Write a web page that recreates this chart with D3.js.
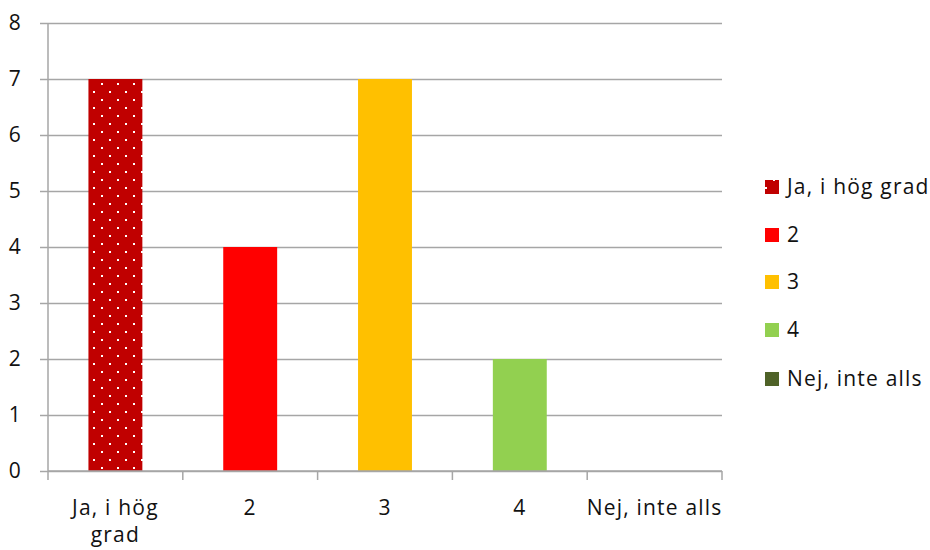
<!DOCTYPE html>
<html>
<head>
<meta charset="utf-8">
<script src="https://cdn.jsdelivr.net/npm/d3@7"></script>
<style>
  body { margin: 0; background: #fff; }
  svg { display: block; }
  text { font-family: "Open Sans", "DejaVu Sans", sans-serif; fill: #111; letter-spacing: 1.2px; }
</style>
</head>
<body>
<svg id="chart" width="930" height="550"></svg>
<script>
// Survey answers: how many respondents chose each option
const categories = ["Ja, i hög grad", "2", "3", "4", "Nej, inte alls"];
const counts = [7, 4, 7, 2, 0];
const colors = ["#C00000", "#FF0000", "#FFC000", "#92D050", "#4F6228"];
const yTicks = [0, 1, 2, 3, 4, 5, 6, 7, 8];

const svg = d3.select("#chart");
const plot = { left: 48, right: 722, top: 23, bottom: 471 };
const fontSize = 21;

// Dotted fill for the first category
const defs = svg.append("defs");
const pat = defs.append("pattern")
  .attr("id", "dots")
  .attr("patternUnits", "userSpaceOnUse")
  .attr("width", 16).attr("height", 16);
pat.append("rect").attr("width", 16).attr("height", 16).attr("fill", colors[0]);
pat.append("rect").attr("x", 5).attr("y", 3).attr("width", 2).attr("height", 2).attr("fill", "#fff");
pat.append("rect").attr("x", 13).attr("y", 11).attr("width", 2).attr("height", 2).attr("fill", "#fff");

const fills = colors.map((c, i) => i === 0 ? "url(#dots)" : c);

const x = d3.scaleBand().domain(categories).range([plot.left, plot.right]).padding(0);
const y = d3.scaleLinear().domain([0, 8]).range([plot.bottom, plot.top]);

const gridColor = "#A6A6A6";

// Horizontal gridlines with short ticks on the left
const yAxis = d3.axisLeft(y).tickValues(yTicks).tickSize(-(plot.right - plot.left)).tickPadding(26);
const gy = svg.append("g").attr("transform", `translate(${plot.left},0)`).call(yAxis);
gy.select(".domain").remove();
gy.selectAll(".tick line").attr("stroke", gridColor).attr("stroke-width", 1.5).attr("x1", -8);
gy.selectAll(".tick text")
  .attr("font-size", fontSize)
  .attr("font-family", "Open Sans, sans-serif")
  .attr("fill", "#111");

// Vertical axis line
svg.append("line")
  .attr("x1", plot.left).attr("x2", plot.left)
  .attr("y1", plot.top).attr("y2", plot.bottom)
  .attr("stroke", gridColor).attr("stroke-width", 1.5);

// Bars
const barW = x.bandwidth() * 0.4;
svg.append("g").selectAll("rect")
  .data(categories.map((c, i) => ({ c, v: counts[i], f: fills[i] })))
  .join("rect")
  .attr("x", d => x(d.c) + (x.bandwidth() - barW) / 2)
  .attr("y", d => y(d.v))
  .attr("width", barW)
  .attr("height", d => y(0) - y(d.v))
  .attr("fill", d => d.f);

// Category axis with tick marks between categories
const gx = svg.append("g").attr("transform", `translate(0,${plot.bottom})`);
gx.append("line")
  .attr("x1", plot.left).attr("x2", plot.right)
  .attr("stroke", gridColor).attr("stroke-width", 1.5);
const edges = categories.map(c => x(c)).concat([plot.right]);
gx.selectAll(".sep").data(edges).join("line")
  .attr("class", "sep")
  .attr("x1", d => d).attr("x2", d => d)
  .attr("y1", 0).attr("y2", 9)
  .attr("stroke", gridColor).attr("stroke-width", 1.5);

// Category labels, wrapped when too wide for the band
const labelLines = { "Ja, i hög grad": ["Ja, i hög", "grad"] };
categories.forEach(c => {
  const lines = labelLines[c] || [c];
  const cx = x(c) + x.bandwidth() / 2;
  const t = gx.append("text")
    .attr("text-anchor", "middle")
    .attr("font-size", fontSize)
    .attr("x", cx)
    .attr("y", 44);
  lines.forEach((ln, k) => {
    t.append("tspan")
      .attr("x", cx)
      .attr("dy", k === 0 ? 0 : 27)
      .text(ln);
  });
});

// Legend
const legendY = [187, 235, 282, 330, 379];
const lg = svg.append("g");
categories.forEach((c, i) => {
  lg.append("rect")
    .attr("x", 765).attr("y", legendY[i] - 7)
    .attr("width", 14).attr("height", 14)
    .attr("fill", fills[i]);
  lg.append("text")
    .attr("x", 787).attr("y", legendY[i] + 7)
    .attr("font-size", fontSize)
    .text(c);
});
</script>
</body>
</html>
